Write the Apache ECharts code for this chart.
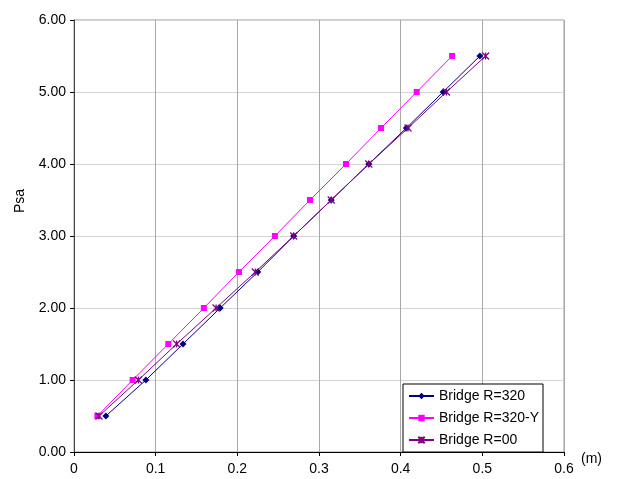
<!DOCTYPE html>
<html><head><meta charset="utf-8">
<script src="https://cdn.jsdelivr.net/npm/echarts@6/dist/echarts.min.js"></script>
<style>html,body{margin:0;padding:0;background:#fff}#c{width:617px;height:479px}</style>
</head><body><div id="c"></div>
<script>
const psa = [0.5, 1.0, 1.5, 2.0, 2.5, 3.0, 3.5, 4.0, 4.5, 5.0, 5.5];
const dispR320 = [0.039, 0.088, 0.1335, 0.179, 0.225, 0.269, 0.315, 0.361, 0.407, 0.452, 0.497];
const dispR320Y = [0.0286, 0.0718, 0.1155, 0.159, 0.202, 0.246, 0.289, 0.333, 0.376, 0.4196, 0.463];
const dispR00 = [0.0306, 0.0788, 0.1257, 0.174, 0.222, 0.269, 0.315, 0.361, 0.409, 0.456, 0.504];
const seriesNames = ['Bridge R=320', 'Bridge R=320-Y', 'Bridge R=00'];
const xTicks = [0, 0.1, 0.2, 0.3, 0.4, 0.5, 0.6];

const font = 'Liberation Sans, Arial, sans-serif';
const pair = (xs) => xs.map((x, i) => [x, psa[i]]);
const chart = echarts.init(document.getElementById('c'), null, {renderer: 'canvas'});
chart.setOption({
  animation: false,
  backgroundColor: '#fff',
  textStyle: {fontFamily: font},
  grid: {left: 74, right: 53, top: 20, bottom: 27, show: true, borderColor: '#999', borderWidth: 1},
  xAxis: {
    type: 'value', min: 0, max: 0.6, interval: 0.1,
    axisLine: {show: true, onZero: false, lineStyle: {color: '#000', width: 1}},
    axisTick: {show: true, length: 4, lineStyle: {color: '#000'}},
    axisLabel: {color: '#000', fontSize: 14, fontFamily: font, margin: 10,
      formatter: v => { const t = xTicks.find(k => Math.abs(k - v) < 1e-9); return t === undefined ? '' : String(t); }},
    splitLine: {show: true, lineStyle: {color: '#a8a8a8', width: 1}}
  },
  yAxis: {
    type: 'value', min: 0, max: 6, interval: 1,
    axisLine: {show: true, lineStyle: {color: '#444', width: 1}},
    axisTick: {show: true, length: 4, lineStyle: {color: '#000'}},
    axisLabel: {color: '#000', fontSize: 14, fontFamily: font, margin: 8, formatter: v => v.toFixed(2)},
    splitLine: {show: true, lineStyle: {color: '#d4d4d4', width: 1}}
  },
  legend: {
    orient: 'vertical', left: 403, top: 384,
    backgroundColor: '#fff', borderColor: '#000', borderWidth: 1,
    padding: [4, 4, 4, 5], itemGap: 6, itemWidth: 25, itemHeight: 8,
    textStyle: {color: '#000', fontSize: 14, fontFamily: font, lineHeight: 16},
    data: seriesNames
  },
  series: [
    {name: seriesNames[0], type: 'line', data: pair(dispR320), symbol: 'diamond', symbolSize: 7,
      lineStyle: {color: '#000080', width: 1}, itemStyle: {color: '#000080'}},
    {name: seriesNames[1], type: 'line', data: pair(dispR320Y), symbol: 'rect', symbolSize: 6,
      lineStyle: {color: '#ff00ff', width: 1}, itemStyle: {color: '#ff00ff'}},
    {name: seriesNames[2], type: 'line', data: pair(dispR00),
      symbol: 'path://M0,0L10,10M10,0L0,10M5,0L5,10', symbolSize: 7,
      lineStyle: {color: '#800080', width: 1}, itemStyle: {color: 'rgba(0,0,0,0)', borderColor: '#800080', borderWidth: 1.2}}
  ],
  graphic: [
    {type: 'text', left: 581, top: 452, style: {text: '(m)', fontSize: 14, fontFamily: font, fill: '#000'}},
    {type: 'text', x: 20, y: 201, rotation: Math.PI / 2,
      style: {text: 'Psa', fontSize: 14, fontFamily: font, fill: '#000', align: 'center', verticalAlign: 'middle'}}
  ]
});
</script></body></html>
